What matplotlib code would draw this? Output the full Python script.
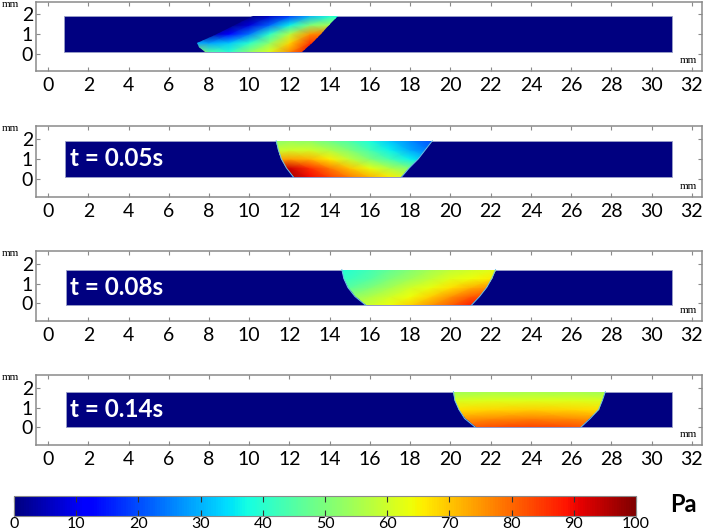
import numpy as np
import matplotlib
matplotlib.use("Agg")
import matplotlib.pyplot as plt
from matplotlib.patches import Rectangle, Polygon

plt.rcParams['font.family'] = ['Lato', 'DejaVu Sans']

# time stamps written in panels (first panel has none)
labels = [None, "t = 0.05s", "t = 0.08s", "t = 0.14s"]

# blue channel strip per panel, mm
strip_x = [(0.8, 31.0), (0.85, 31.0), (0.9, 31.0), (0.9, 31.0)]
strip_y = [(0.1, 1.92), (0.1, 1.9), (-0.1, 1.7), (0.0, 1.8)]

# droplet outline, left edge bottom->top, right edge top->bottom (x, y) in mm
left_edge = [
    [(7.8, 0.1), (7.5, 0.35), (7.4, 0.55), (8.3, 0.95), (10.2, 1.92)],
    [(12.2, 0.1), (11.85, 0.55), (11.6, 1.0), (11.45, 1.45), (11.34, 1.9)],
    [(15.8, -0.1), (15.25, 0.35), (14.9, 0.8), (14.7, 1.25), (14.6, 1.7)],
    [(21.25, 0.0), (20.7, 0.45), (20.42, 0.9), (20.22, 1.35), (20.15, 1.8)],
]
right_edge = [
    [(14.4, 1.92), (13.95, 1.45), (13.55, 1.0), (13.1, 0.55), (12.6, 0.1)],
    [(19.1, 1.9), (18.75, 1.45), (18.4, 1.0), (17.95, 0.55), (17.56, 0.1)],
    [(22.24, 1.7), (22.05, 1.25), (21.8, 0.8), (21.45, 0.35), (21.03, -0.1)],
    [(27.7, 1.8), (27.55, 1.35), (27.36, 0.9), (26.95, 0.45), (26.47, 0.0)],
]

# pressure samples (Pa), rows from bottom to top of strip
grid_x = [
    [7.0, 8.0, 9.0, 10.0, 11.0, 12.0, 13.0, 14.0, 15.0],
    [11.0, 12.0, 13.0, 14.0, 15.0, 16.0, 17.0, 18.0, 19.0, 20.0],
    [14.0, 15.0, 16.0, 17.0, 18.0, 19.0, 20.0, 21.0, 22.0, 23.0],
    [20.0, 22.0, 24.0, 26.0, 28.0],
]
p_t0 = [
    [70, 45, 40, 52, 62, 76, 90, 90, 90],
    [30, 28, 32, 40, 52, 68, 85, 88, 88],
    [0, 3, 12, 24, 40, 57, 75, 80, 80],
    [0, 0, 0, 8, 22, 36, 50, 55, 55],
    [0, 0, 0, 0, 6, 18, 30, 38, 38],
]
p_t05 = [
    [98, 97, 90, 84, 78, 72, 66, 60, 55, 50],
    [93, 93, 86, 78, 70, 63, 56, 50, 45, 40],
    [72, 74, 72, 66, 58, 50, 43, 36, 30, 26],
    [58, 60, 60, 56, 50, 43, 36, 29, 24, 20],
    [52, 53, 52, 48, 44, 38, 32, 26, 20, 16],
]
p_t08 = [
    [55, 57, 60, 64, 69, 75, 81, 88, 90, 90],
    [50, 52, 56, 60, 64, 69, 75, 81, 84, 84],
    [44, 46, 50, 55, 60, 63, 67, 72, 76, 76],
    [40, 42, 45, 50, 54, 58, 62, 64, 66, 66],
    [38, 40, 43, 47, 51, 55, 58, 60, 62, 62],
]
p_t14 = [
    [80, 83, 84, 83, 80],
    [74, 76, 77, 76, 74],
    [67, 68, 69, 68, 67],
    [61, 62, 62, 62, 61],
    [54, 55, 55, 55, 54],
]
fields = [p_t0, p_t05, p_t08, p_t14]

cbar_ticks = list(range(0, 101, 10))

# axes rectangles (fig fraction)
panel_pos = [
    [0.0508, 0.8665, 0.9407, 0.1297],
    [0.0508, 0.6297, 0.9407, 0.1335],
    [0.0508, 0.3966, 0.9407, 0.1316],
    [0.0508, 0.1635, 0.9407, 0.1316],
]

cmap = plt.get_cmap('jet')
grey = '#8a8a8a'

fig = plt.figure(figsize=(7.08, 5.32), dpi=100)

for i in range(4):
    ax = fig.add_axes(panel_pos[i])
    x0, x1 = strip_x[i]
    y0, y1 = strip_y[i]
    ax.add_patch(Rectangle((x0, y0), x1 - x0, y1 - y0, facecolor=cmap(0.0),
                           edgecolor='#9aa0c8', linewidth=0.6, zorder=1))

    gx = np.array(grid_x[i])
    gy = np.linspace(y0, y1, len(fields[i]))
    mesh = ax.pcolormesh(gx, gy, np.array(fields[i]), shading='gouraud',
                         cmap=cmap, vmin=0, vmax=100, zorder=2)
    outline = Polygon(left_edge[i] + right_edge[i], closed=True,
                      transform=ax.transData)
    mesh.set_clip_path(outline)
    if i > 0:
        for side in (left_edge[i], right_edge[i]):
            sx, sy = zip(*side)
            ax.plot(sx, sy, color='#6cc4e8', linewidth=0.7, zorder=3)

    if labels[i]:
        ax.text(1.1, (y0 + y1) / 2, labels[i], color='white', fontsize=17.5,
                fontweight='bold', ha='left', va='center', zorder=4)

    ax.set_xlim(-0.6, 32.5)
    ax.set_ylim(-0.88, 2.63)
    ax.set_xticks(range(0, 33, 2))
    ax.set_yticks([0, 1, 2])
    ax.tick_params(direction='in', top=True, right=True, length=3,
                   color=grey, labelsize=14, pad=4)
    ax.tick_params(axis='y', pad=2)
    for s in ax.spines.values():
        s.set_color(grey)
        s.set_linewidth(1.1)

    ax.text(-0.038, 0.97, 'mm', transform=ax.transAxes, ha='center',
            va='center', fontsize=8, family='Liberation Serif')
    ax.text(31.8, -0.35, 'mm', ha='center', va='center', fontsize=8,
            family='Liberation Serif')

cax = fig.add_axes([0.0198, 0.0300, 0.8785, 0.0376])
sm = plt.cm.ScalarMappable(cmap=cmap, norm=plt.Normalize(0, 100))
cb = fig.colorbar(sm, cax=cax, orientation='horizontal', ticks=cbar_ticks)
cb.outline.set_edgecolor(grey)
cax.tick_params(direction='in', top=True, bottom=True, length=4, color='#333333',
                labelsize=11.5, pad=1)
fig.text(0.965, 0.052, 'Pa', fontsize=17, fontweight='bold', ha='center',
         va='center')

fig.savefig('out.png', dpi=100)
